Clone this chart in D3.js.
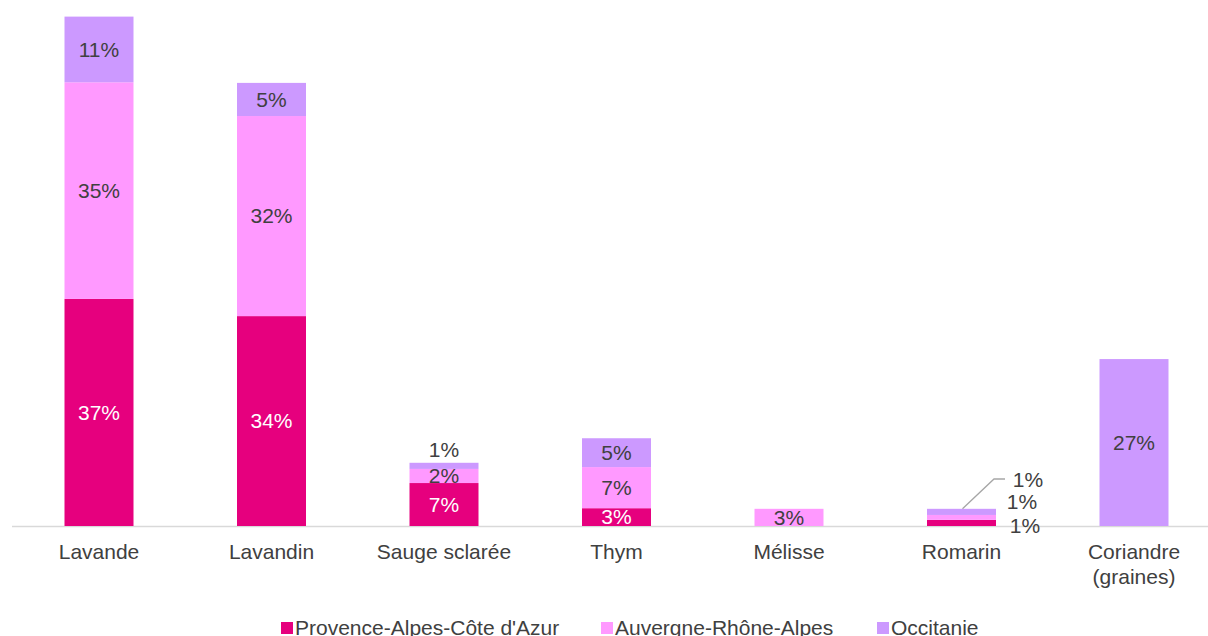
<!DOCTYPE html>
<html><head><meta charset="utf-8">
<script src="https://cdn.jsdelivr.net/npm/d3@7"></script>
<style>html,body{margin:0;padding:0;background:#fff;overflow:hidden}svg{display:block;font-family:"Liberation Sans",Arial,sans-serif}</style>
</head><body><svg id="c" width="1208" height="636"></svg>
<script>
const categories = ["Lavande","Lavandin","Sauge sclarée","Thym","Mélisse","Romarin","Coriandre\n(graines)"];
const seriesNames = ["Provence-Alpes-Côte d'Azur","Auvergne-Rhône-Alpes","Occitanie"];
const paca = [37.0, 34.2, 7.0, 2.9, 0, 1.0, 0];
const aura = [35.3, 32.6, 2.3, 6.7, 2.8, 0.8, 0];
const occi = [10.7, 5.4, 1.0, 4.7, 0, 1.0, 27.2];
const labelsPaca = ["37%","34%","7%","3%","","1%",""];
const labelsAura = ["35%","32%","2%","7%","3%","1%",""];
const labelsOcci = ["11%","5%","1%","5%","","1%","27%"];
const colors = ["#e6007e","#ff99ff","#cc99ff"];

const svg = d3.select("#c");
const x = d3.scaleBand().domain(categories).range([12.75, 1220.25]).paddingInner(0.6).paddingOuter(0.3);
const y = d3.scaleLinear().domain([0, 83.1]).range([526, 16]);

const rows = categories.map((c,i)=>({cat:c, s0:paca[i], s1:aura[i], s2:occi[i], i}));
const stack = d3.stack().keys(["s0","s1","s2"])(rows);
const labels = [labelsPaca, labelsAura, labelsOcci];

// axis line
svg.append("line").attr("x1",12).attr("x2",1208).attr("y1",y(0)+0.5).attr("y2",y(0)+0.5)
  .attr("stroke","#d9d9d9").attr("stroke-width",1.5);

stack.forEach((layer,k)=>{
  svg.append("g").selectAll("rect").data(layer).join("rect")
    .attr("x",d=>x(d.data.cat)).attr("width",x.bandwidth())
    .attr("y",d=>y(d[1])).attr("height",d=>y(d[0])-y(d[1]))
    .attr("fill",colors[k]);
});

const fs = 21;
const lab = svg.append("g").attr("font-size",fs);
stack.forEach((layer,k)=>{
  layer.forEach((d,i)=>{
    const t = labels[k][i];
    if(!t) return;
    let cx = x(d.data.cat)+x.bandwidth()/2;
    let cy = (y(d[0])+y(d[1]))/2;
    const cat = d.data.cat;
    if(cat==="Sauge sclarée" && k===2){ cy = y(d[1]) - 13; }
    if(cat==="Romarin"){
      cx = x(cat)+x.bandwidth() + [29, 26, 32][k];
      cy = [526, 502, 480][k];
    }
    lab.append("text").attr("x",cx).attr("y",cy).attr("dy","0.35em")
      .attr("text-anchor","middle")
      .attr("fill", (k===0 && cat!=="Romarin") ? "#ffffff" : "#404040")
      .text(t);
  });
});
// leader line for Romarin Occitanie
{
  const r = rows[5];
  const xr = x("Romarin")+x.bandwidth();
  const xc = x("Romarin")+x.bandwidth()/2+1;
  const yt = y(r.s0+r.s1+r.s2);
  svg.append("polyline").attr("points",`${xc},${yt} ${xr-2},${479} ${xr+9},${479}`)
    .attr("fill","none").attr("stroke","#a6a6a6").attr("stroke-width",1.3);
}

// category labels
const cg = svg.append("g").attr("font-size",fs).attr("fill","#404040");
categories.forEach(c=>{
  const lines = c.split("\n");
  const tx = cg.append("text").attr("x",x(c)+x.bandwidth()/2).attr("y",559).attr("text-anchor","middle");
  lines.forEach((l,j)=>tx.append("tspan").attr("x",x(c)+x.bandwidth()/2).attr("dy",j?25:0).text(l));
});

// legend
const legX = [281, 601, 877];
const lg = svg.append("g").attr("font-size",fs).attr("fill","#404040");
seriesNames.forEach((n,k)=>{
  lg.append("rect").attr("x",legX[k]).attr("y",622).attr("width",12).attr("height",12).attr("fill",colors[k]);
  lg.append("text").attr("x",legX[k]+14).attr("y",628).attr("dy","0.35em").text(n);
});
</script></body></html>
